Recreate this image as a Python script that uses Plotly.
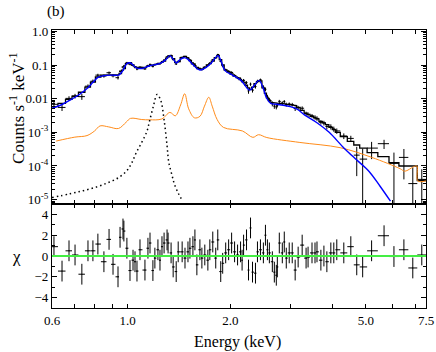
import numpy as np
import plotly.graph_objects as go

# spectral bins (centre energy, keV)
energy = [0.608, 0.642, 0.673, 0.701, 0.734, 0.765, 0.791, 0.818, 0.852, 0.882,
          0.906, 0.937, 0.950, 0.969, 0.975, 0.995, 1.016, 1.037, 1.051, 1.065,
          1.087, 1.124, 1.147, 1.163, 1.186, 1.202, 1.227, 1.244, 1.261, 1.279,
          1.305, 1.314, 1.341, 1.360, 1.388, 1.407, 1.445, 1.473, 1.503, 1.523,
          1.554, 1.575, 1.596, 1.629, 1.651, 1.684, 1.719, 1.742, 1.777, 1.813,
          1.838, 1.875, 1.900, 1.939, 1.978, 2.018, 2.059, 2.101, 2.144, 2.166,
          2.188, 2.232, 2.262, 2.293, 2.324, 2.371, 2.403, 2.452, 2.501, 2.536,
          2.570, 2.604, 2.657, 2.693, 2.729, 2.748, 2.785, 2.842, 2.880, 2.919,
          2.978, 3.039, 3.100, 3.163, 3.250, 3.337, 3.382, 3.473, 3.544, 3.592,
          3.688, 3.764, 3.840, 3.944, 4.024, 4.106, 4.305, 4.514, 4.698, 4.890,
          5.194, 5.650, 6.040, 6.460, 6.860, 7.290]

# folded total model (black histogram)
model_total = [0.0058, 0.0072, 0.0095, 0.0118, 0.0155, 0.022, 0.031, 0.044, 0.050, 0.051,
               0.052, 0.052, 0.056, 0.070, 0.078, 0.110, 0.117, 0.100, 0.090, 0.085,
               0.082, 0.085, 0.091, 0.096, 0.100, 0.103, 0.107, 0.112, 0.120, 0.130,
               0.160, 0.175, 0.190, 0.155, 0.120, 0.125, 0.165, 0.180, 0.160, 0.135,
               0.108, 0.095, 0.085, 0.075, 0.075, 0.085, 0.100, 0.110, 0.130, 0.165,
               0.190, 0.145, 0.100, 0.070, 0.062, 0.054, 0.047, 0.042, 0.037, 0.034,
               0.031, 0.025, 0.021, 0.019, 0.022, 0.028, 0.032, 0.034, 0.021, 0.0145,
               0.0105, 0.0088, 0.0077, 0.0075, 0.0074, 0.0073, 0.0072, 0.0071, 0.0070, 0.0069,
               0.0067, 0.0065, 0.0062, 0.0055, 0.0045, 0.0037, 0.0034, 0.0030, 0.0027, 0.0025,
               0.0021, 0.0019, 0.0017, 0.0014, 0.0012, 0.0010, 7.5e-4, 5.4e-4, 4.2e-4, 3.4e-4,
               2.5e-4, 1.9e-4, 1.25e-4, 1.0e-4, 1.0e-4, 3.7e-5]

# observed count rate and 1-sigma errors
rate = [0.0068, 0.0055, 0.0102, 0.012, 0.0115, 0.0235, 0.033, 0.050, 0.047, 0.059,
        0.048, 0.042, 0.065, 0.087, 0.094, 0.116, 0.106, 0.097, 0.086, 0.076,
        0.086, 0.077, 0.096, 0.104, 0.091, 0.102, 0.111, 0.109, 0.126, 0.140,
        0.174, 0.187, 0.193, 0.145, 0.108, 0.128, 0.169, 0.178, 0.164, 0.142,
        0.115, 0.106, 0.080, 0.079, 0.074, 0.086, 0.098, 0.114, 0.142, 0.163,
        0.205, 0.130, 0.094, 0.072, 0.065, 0.060, 0.049, 0.042, 0.039, 0.033,
        0.035, 0.030, 0.017, 0.027, 0.018, 0.023, 0.033, 0.036, 0.022, 0.019,
        0.0114, 0.0092, 0.0071, 0.0060, 0.0057, 0.0064, 0.0083, 0.0074, 0.0082, 0.0067,
        0.0069, 0.0067, 0.0051, 0.0054, 0.0052, 0.0036, 0.0034, 0.0031, 0.0028, 0.0026,
        0.0020, 0.0019, 0.0015, 0.00147, 0.00126, 0.0011, 7.8e-4, 6.6e-4, 2.1e-4, 1.6e-4,
        3.4e-4, 4.6e-4, 1.2e-4, 1.8e-4, 3.0e-5, 4.0e-5]

rate_err = [0.0012, 0.0012, 0.0016, 0.0019, 0.0023, 0.003, 0.004, 0.005, 0.005, 0.005,
            0.005, 0.005, 0.005, 0.0065, 0.0065, 0.008, 0.008, 0.007, 0.007, 0.006,
            0.006, 0.006, 0.006, 0.0065, 0.0065, 0.0065, 0.007, 0.007, 0.007, 0.008,
            0.009, 0.010, 0.010, 0.009, 0.008, 0.008, 0.009, 0.010, 0.009, 0.009,
            0.008, 0.007, 0.006, 0.006, 0.006, 0.006, 0.006, 0.007, 0.009, 0.010,
            0.010, 0.010, 0.008, 0.006, 0.005, 0.005, 0.0045, 0.004, 0.004, 0.0035,
            0.0035, 0.003, 0.003, 0.003, 0.0028, 0.003, 0.0035, 0.0035, 0.003, 0.0025,
            0.0016, 0.0014, 0.0012, 0.0010, 0.0009, 0.0009, 0.0009, 0.0009, 0.0009, 0.0009,
            0.0008, 0.0008, 0.0008, 0.0007, 0.0007, 0.0005, 0.0005, 0.0004, 0.0004, 0.0004,
            0.0003, 0.0003, 0.00028, 0.00026, 0.00022, 0.0002, 1.5e-4, 1.3e-4, 1.6e-4, 1.7e-4,
            1.8e-4, 1.4e-4, 1.3e-4, 1.4e-4, 6e-5, 4e-5]

# residuals (data - model) / sigma
chi = [0.9, -1.45, 0.5, 0.1, -1.75, 0.5, 0.5, 1.15, -0.55, 1.6,
       -0.8, -2.0, 1.8, 2.6, 2.4, 0.75, -1.4, -0.4, -0.55, -1.45,
       0.6, -1.35, 0.75, 1.25, -1.4, -0.2, 0.6, -0.4, 0.9, 1.25,
       1.55, 1.25, 0.3, -1.05, -1.5, 0.4, 0.4, -0.2, 0.4, 0.75,
       0.9, 1.55, -0.85, 0.6, -0.2, 0.1, -0.4, 0.6, 1.35, -0.2,
       1.55, -1.5, -0.7, 0.3, 0.6, 1.25, 0.4, 0.1, 0.4, -0.4,
       1.05, 1.55, -1.35, 2.7, -1.55, -1.65, 0.4, 0.6, 0.3, 2.0,
       0.6, 0.3, -0.55, -1.55, -1.85, -1.05, 1.25, 0.3, 1.35, -0.2,
       0.3, 0.3, -1.35, -0.1, 1.05, -0.2, -0.1, 0.3, 0.3, 0.4,
       -0.4, 0.0, -0.55, 0.3, 0.3, 0.6, 0.3, 0.9, -0.85, -1.05,
       0.5, 1.95, -0.05, 0.6, -1.15, 0.1]

# model components
blue_e = [0.600, 0.640, 0.680, 0.727, 0.760, 0.790, 0.818, 0.850, 0.900, 0.940,
          0.965, 0.995, 1.020, 1.060, 1.100, 1.160, 1.240, 1.290, 1.330, 1.360,
          1.390, 1.420, 1.460, 1.500, 1.550, 1.630, 1.700, 1.760, 1.840, 1.880,
          1.930, 2.030, 2.150, 2.280, 2.360, 2.430, 2.500, 2.550, 2.630, 2.740,
          3.000, 3.150, 3.300, 3.600, 3.900, 4.300, 4.700, 5.100, 5.500, 5.900]
blue_v = [0.0052, 0.0066, 0.0092, 0.014, 0.020, 0.030, 0.043, 0.048, 0.050, 0.050,
          0.065, 0.110, 0.115, 0.082, 0.079, 0.095, 0.110, 0.140, 0.190, 0.150,
          0.115, 0.140, 0.165, 0.150, 0.105, 0.071, 0.085, 0.115, 0.190, 0.130,
          0.068, 0.050, 0.035, 0.018, 0.026, 0.035, 0.020, 0.011, 0.0072, 0.0068,
          0.0058, 0.0048, 0.0033, 0.0019, 0.0010, 3.5e-4, 1.5e-4, 7.0e-5, 2.5e-5, 9.0e-6]

orange_e = [0.617, 0.700, 0.760, 0.800, 0.830, 0.880, 0.940, 0.990, 1.020, 1.100,
            1.160, 1.260, 1.330, 1.380, 1.430, 1.470, 1.510, 1.570, 1.630, 1.680,
            1.730, 1.770, 1.830, 1.910, 2.170, 2.330, 2.420, 2.560, 3.200, 4.200,
            5.200, 6.300, 6.500, 6.900, 7.050, 7.100, 7.500]
orange_v = [5.5e-4, 7.2e-4, 8.0e-4, 1.1e-3, 1.55e-3, 1.45e-3, 1.3e-3, 2.0e-3, 2.6e-3, 2.4e-3,
            2.35e-3, 2.5e-3, 3.9e-3, 3.1e-3, 6.5e-3, 0.014, 5.0e-3, 2.7e-3, 3.0e-3, 6.0e-3,
            0.011, 6.0e-3, 2.4e-3, 1.4e-3, 1.1e-3, 7.1e-4, 8.5e-4, 7.0e-4, 5.0e-4, 3.5e-4,
            1.8e-4, 8.3e-5, 7.0e-5, 9.5e-5, 1.0e-4, 3.6e-5, 3.6e-5]

line_e = [0.600, 0.678, 0.741, 0.812, 0.876, 0.940, 0.994, 1.029, 1.060, 1.100,
          1.140, 1.160, 1.190, 1.220, 1.250, 1.280, 1.305, 1.320, 1.350, 1.370,
          1.410, 1.450]
line_v = [1.15e-5, 1.5e-5, 1.85e-5, 2.4e-5, 3.2e-5, 4.5e-5, 7.2e-5, 1.26e-4, 2.5e-4, 5.0e-4,
          1.1e-3, 2.2e-3, 6.0e-3, 0.0133, 9.0e-3, 2.2e-3, 4.0e-4, 1.3e-4, 5.2e-5, 3.0e-5,
          1.5e-5, 9.0e-6]

x_ticks = [0.6, 0.7, 0.8, 0.9, 1, 2, 3, 4, 5, 6, 7, 7.5]
x_labels = ["0.6", "", "", "", "1.0", "2.0", "", "", "5.0", "", "", "7.5"]
y_ticks = [1e-5, 1e-4, 1e-3, 0.01, 0.1, 1]
y_labels = ["10<sup>-5</sup>", "10<sup>-4</sup>", "10<sup>-3</sup>", "0.01", "0.1", "1.0"]
chi_ticks = [-4, -2, 0, 2, 4]

FONT = "Liberation Serif, Times New Roman, serif"

# bin edges from neighbouring centres
e = np.array(energy)
mid = np.sqrt(e[1:] * e[:-1])
lo = np.concatenate([[0.6], mid])
hi = np.concatenate([mid, [7.5]])
step_x = np.column_stack([lo, hi]).ravel()
step_y = np.repeat(model_total, 2)

fig = go.Figure()
fig.add_trace(go.Scatter(
    x=energy, y=rate, mode="markers", xaxis="x2", yaxis="y",
    marker=dict(size=1, color="black"),
    error_x=dict(type="data", array=hi - e, arrayminus=e - lo, width=0, thickness=1, color="black"),
    error_y=dict(type="data", array=rate_err, width=0, thickness=1, color="black"),
))
fig.add_trace(go.Scatter(x=step_x, y=step_y, mode="lines", xaxis="x2", yaxis="y",
                         line=dict(color="black", width=1.3)))
fig.add_trace(go.Scatter(x=orange_e, y=orange_v, mode="lines", xaxis="x2", yaxis="y",
                         line=dict(color="#ff8c1a", width=1, shape="spline")))
fig.add_trace(go.Scatter(x=line_e, y=line_v, mode="lines", xaxis="x2", yaxis="y",
                         line=dict(color="black", width=1.5, dash="1.5px,3px", shape="spline")))
fig.add_trace(go.Scatter(x=blue_e, y=blue_v, mode="lines", xaxis="x2", yaxis="y",
                         line=dict(color="#0000ff", width=1.4, shape="spline")))

fig.add_trace(go.Scatter(
    x=energy, y=chi, mode="markers", xaxis="x", yaxis="y2",
    marker=dict(size=1, color="black"),
    error_x=dict(type="data", array=hi - e, arrayminus=e - lo, width=0, thickness=1, color="black"),
    error_y=dict(type="constant", value=1, width=0, thickness=1, color="black"),
))
fig.add_shape(type="line", xref="x domain", yref="y2", x0=0, x1=1, y0=0, y1=0,
              line=dict(color="#44ee44", width=2))

xr = [np.log10(0.6), np.log10(7.5)]
axis_common = dict(showline=True, linecolor="black", linewidth=1.2, mirror="allticks",
                   ticks="inside", tickcolor="black", showgrid=False, zeroline=False,
                   automargin=False, tickfont=dict(family=FONT, size=13, color="black"))
fig.update_layout(
    template="none",
    width=436, height=352,
    paper_bgcolor="white", plot_bgcolor="white",
    showlegend=False,
    margin=dict(l=52, r=10, t=30, b=44),
    font=dict(family=FONT, size=13, color="black"),
    xaxis=dict(axis_common, type="log", range=xr, anchor="y2", domain=[0, 1],
               tickvals=x_ticks, ticktext=x_labels, ticklen=4),
    xaxis2=dict(axis_common, type="log", range=xr, anchor="y", domain=[0, 1],
                matches="x", tickvals=x_ticks, ticktext=x_labels, showticklabels=False, ticklen=4),
    yaxis=dict(axis_common, type="log", range=[-5.13, 0.04], domain=[0.374, 1], anchor="x2",
               tickvals=y_ticks, ticktext=y_labels, ticklen=5,
               minor=dict(tickvals=[m * 10.0 ** p for p in range(-6, 1) for m in range(2, 10)],
                          ticks="inside", ticklen=3, tickcolor="black", showgrid=False)),
    yaxis2=dict(axis_common, range=[-5, 5], domain=[0, 0.374], anchor="x",
                tickvals=chi_ticks, ticklen=5,
                minor=dict(tickvals=[-3, -1, 1, 3], ticks="inside", ticklen=3,
                           tickcolor="black", showgrid=False)),
    annotations=[
        dict(text="Energy (keV)", x=0.496, y=-0.122, xref="paper", yref="paper",
             showarrow=False, font=dict(family=FONT, size=16), xanchor="center", yanchor="middle"),
        dict(text="Counts s<sup>-1</sup> keV<sup>-1</sup>", x=-0.094, y=0.719, xref="paper",
             yref="paper", showarrow=False, textangle=-90, font=dict(family=FONT, size=17),
             xanchor="center", yanchor="middle"),
        dict(text="χ", x=-0.094, y=0.187, xref="paper", yref="paper", showarrow=False,
             font=dict(family=FONT, size=17), xanchor="center", yanchor="middle"),
        dict(text="(b)", x=0.011, y=1.068, xref="paper", yref="paper", showarrow=False,
             font=dict(family=FONT, size=15), xanchor="center", yanchor="middle"),
    ],
)

# the page's default body margin would push the fixed-size figure out of the window
fig.write_html("out.html", config={"displayModeBar": False},
               post_script="document.body.style.margin='0';")
